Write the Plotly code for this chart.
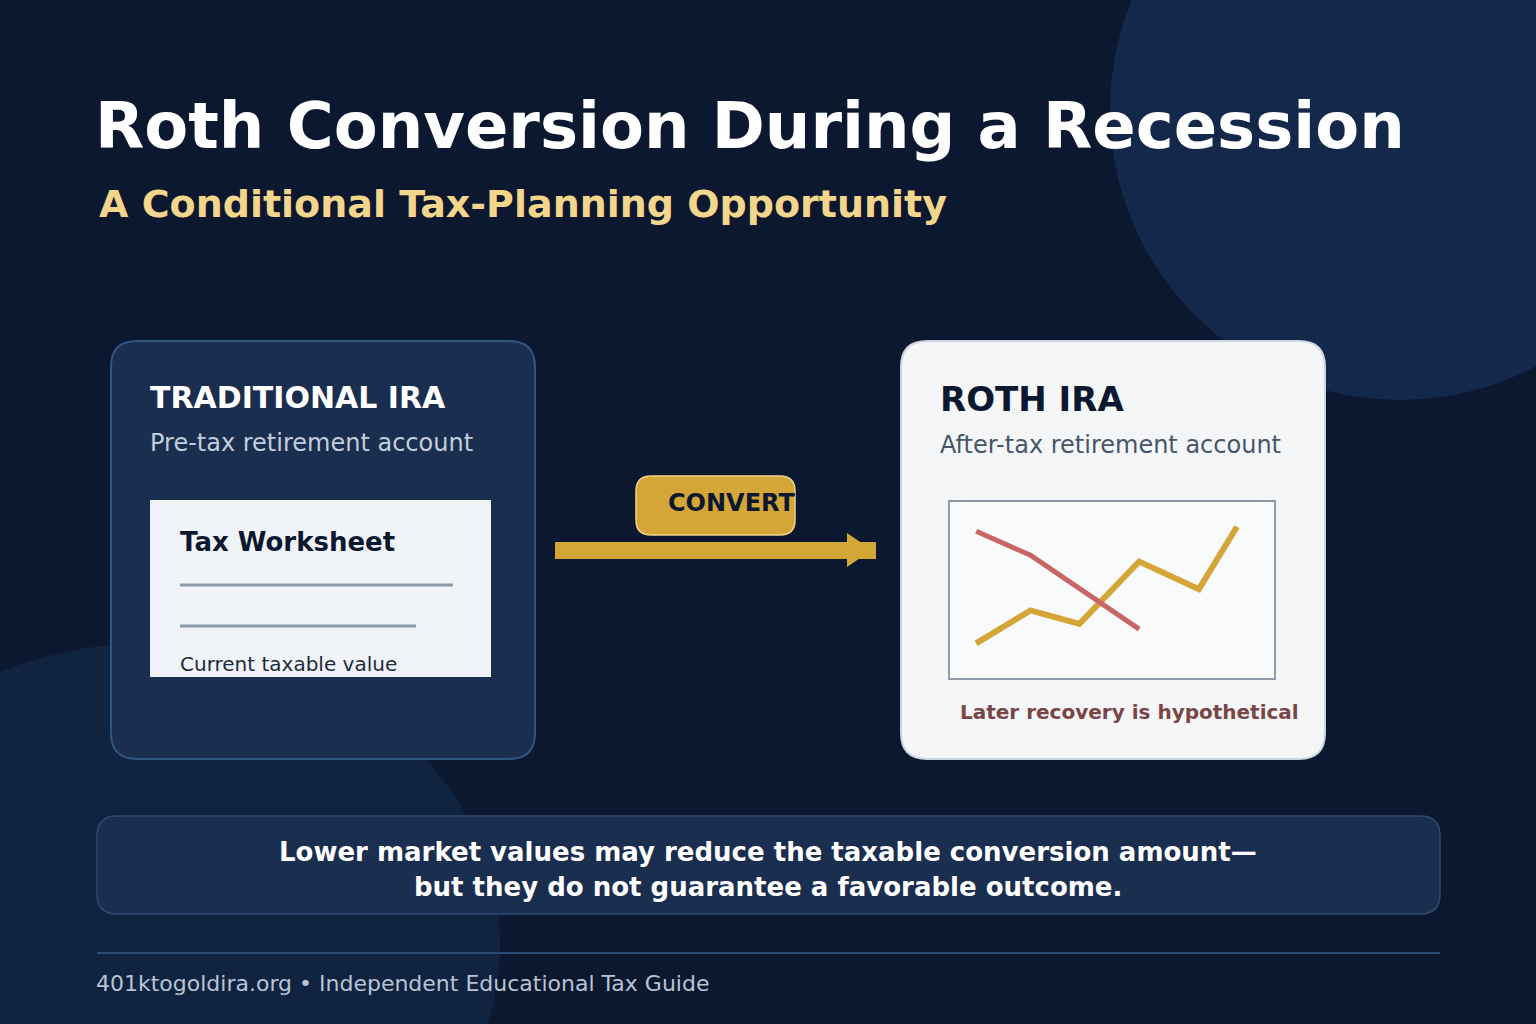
import plotly.graph_objects as go

W, H = 1536, 1024

# ---- data (mini chart inside Roth IRA card) ----
recovery_t = [0, 2, 3.8, 6, 8.2, 9.6]
recovery_v = [20, 38.5, 31, 66, 50.5, 85.5]
decline_t = [0, 2, 6]
decline_v = [83, 69.5, 28]

# ---- text ----
title = "Roth Conversion During a Recession"
subtitle = "A Conditional Tax-Planning Opportunity"
left_head = "TRADITIONAL IRA"
left_sub = "Pre-tax retirement account"
right_head = "ROTH IRA"
right_sub = "After-tax retirement account"
sheet_head = "Tax Worksheet"
sheet_note = "Current taxable value"
badge = "CONVERT"
chart_note = "Later recovery is hypothetical"
msg1 = "Lower market values may reduce the taxable conversion amount\u2014"
msg2 = "but they do not guarantee a favorable outcome."
footer = "401ktogoldira.org \u2022 Independent Educational Tax Guide"

FONT = "DejaVu Sans"
BG = "#0C1830"
GOLD = "#D4A537"
RED = "#C86565"


def rrect(x0, y0, x1, y1, r):
    return (f"M {x0+r},{y0} L {x1-r},{y0} Q {x1},{y0} {x1},{y0+r} "
            f"L {x1},{y1-r} Q {x1},{y1} {x1-r},{y1} L {x0+r},{y1} "
            f"Q {x0},{y1} {x0},{y1-r} L {x0},{y0+r} Q {x0},{y0} {x0+r},{y0} Z")


shapes = []
def add(**kw):
    kw.setdefault("xref", "x")
    kw.setdefault("yref", "y")
    kw.setdefault("layer", "below")
    shapes.append(kw)

# background circles
add(type="circle", x0=1110, x1=1690, y0=-180, y1=400, fillcolor="#13284A", line_width=0)
add(type="circle", x0=-200, x1=500, y0=643, y1=1247, fillcolor="#102340", line_width=0)

# left card
add(type="path", path=rrect(111, 341, 535, 759, 26), fillcolor="#1A2E50", line=dict(color="#2F5580", width=2))
# worksheet
add(type="rect", x0=150, x1=491, y0=500, y1=677, fillcolor="#F0F4F8", line_width=0)
add(type="line", x0=180, x1=453, y0=585, y1=585, line=dict(color="#8C9AAC", width=3))
add(type="line", x0=180, x1=416, y0=626, y1=626, line=dict(color="#8C9AAC", width=3))

# right card
add(type="path", path=rrect(901, 341, 1325, 759, 26), fillcolor="#F4F6F8", line=dict(color="#CBD5E1", width=2))
add(type="rect", x0=949, x1=1275, y0=501, y1=679, fillcolor="#F8FAFC", line=dict(color="#8C9AAC", width=2))

# arrow + badge
add(type="rect", x0=555, x1=876, y0=542, y1=559, fillcolor=GOLD, line_width=0)
add(type="path", path="M 847,533 L 872,550 L 847,567 Z", fillcolor=GOLD, line_width=0)
add(type="path", path=rrect(636, 476, 795, 535, 15), fillcolor=GOLD, line=dict(color="#F2D48A", width=1.5))

# bottom message box
add(type="path", path=rrect(97, 816, 1440, 914, 20), fillcolor="#1A2E50", line=dict(color="#2F4A70", width=1.5))
add(type="line", x0=97, x1=1440, y0=953, y1=953, line=dict(color="#2F4A70", width=2))

ann = []
def txt(s, x, y, size, color, bold=False, anchor="left"):
    ann.append(dict(text=s, x=x, y=y, xref="x", yref="y", showarrow=False,
                    xanchor=anchor, yanchor="middle", borderpad=0,
                    font=dict(family=FONT, size=size, color=color,
                              weight="bold" if bold else "normal")))

txt(title, 94, 126, 64, "#FFFFFF", True)
txt(subtitle, 98, 204, 38, "#F3D58C", True)
txt(left_head, 149, 397, 30, "#FFFFFF", True)
txt(left_sub, 149, 443, 24, "#C3CEDC")
txt(right_head, 939, 399, 34, "#0C1830", True)
txt(right_sub, 939, 445, 24, "#475569")
txt(sheet_head, 179, 542, 26, "#0C1830", True)
txt(sheet_note, 179, 664, 20, "#1E293B")
txt(badge, 667, 503, 24, "#0C1830", True)
txt(chart_note, 959, 712, 20, "#7A4545", True)
txt(msg1, 768, 852, 26, "#FFFFFF", True, "center")
txt(msg2, 768, 887, 26, "#FFFFFF", True, "center")
txt(footer, 95, 983, 22, "#B8C4D4")

fig = go.Figure()
fig.add_trace(go.Scatter(x=recovery_t, y=recovery_v, mode="lines", xaxis="x2", yaxis="y2",
                         line=dict(color=GOLD, width=6), hoverinfo="skip", showlegend=False))
fig.add_trace(go.Scatter(x=decline_t, y=decline_v, mode="lines", xaxis="x2", yaxis="y2",
                         line=dict(color=RED, width=5), hoverinfo="skip", showlegend=False))

fig.update_layout(
    width=W, height=H, margin=dict(l=0, r=0, t=0, b=0),
    paper_bgcolor=BG, plot_bgcolor="rgba(0,0,0,0)",
    xaxis=dict(range=[0, W], domain=[0, 1], visible=False, fixedrange=True),
    yaxis=dict(range=[H, 0], domain=[0, 1], visible=False, fixedrange=True),
    xaxis2=dict(range=[-1, 11], domain=[949 / W, 1275 / W], visible=False, anchor="y2"),
    yaxis2=dict(range=[0, 100], domain=[1 - 679 / H, 1 - 501 / H], visible=False, anchor="x2"),
    shapes=shapes, annotations=ann, showlegend=False,
)

fig.write_html("out.html", config={"displayModeBar": False},
               post_script="document.body.style.margin='0';document.body.style.padding='0';document.body.style.overflow='hidden';")
